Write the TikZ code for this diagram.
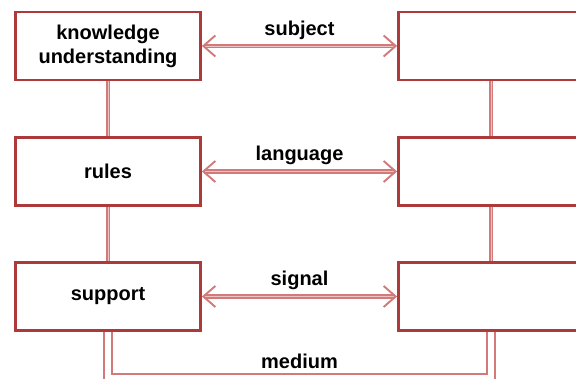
\documentclass[tikz,border=0pt]{standalone}
\usepackage{fontspec}
\setmainfont{Liberation Sans}
\usepackage{xcolor}
\usetikzlibrary{arrows.meta,positioning,calc}

\definecolor{boxred}{RGB}{172,58,58}
\definecolor{linkred}{RGB}{210,122,122}

\begin{document}
\begin{tikzpicture}[x=1pt,y=1pt,font=\fontsize{20}{24}\selectfont\bfseries,
  box/.style={draw=boxred,line width=2.8pt,fill=white,align=center,
    minimum width=185pt,minimum height=68pt,inner sep=0pt},
  link/.style={draw=linkred,line width=1.9pt,double=linkred!45,double distance=0.8pt},
  tips/.style={link,{Straight Barb[length=12pt,width=21pt]}-{Straight Barb[length=12pt,width=21pt]}},
  medlink/.style={draw=linkred,line width=2pt,double=white,double distance=6pt}]
\useasboundingbox (0,0) rectangle (576,379);
\clip (0,0) rectangle (576,379);
% ---- left column ----
\node[box] (lk) at (108,333) {knowledge\\understanding};
\node[box] (lr) at (108,207.5) {rules};
\node[box] (ls) at (108,82.5) {support};
% ---- right column, cut by the page edge ----
\node[box] (rk) at (491,333) {};
\node[box] (rr) at (491,207.5) {};
\node[box] (rs) at (491,82.5) {};
\draw[link] (lk) -- (lr);
\draw[link] (lr) -- (ls);
\draw[link] (rk) -- (rr);
\draw[link] (rr) -- (rs);
\draw[tips] (lk) -- node[above=2pt] {subject} (rk);
\draw[tips] (lr) -- node[above=2pt] {language} (rr);
\draw[tips] (ls) -- node[above=2pt] {signal} (rs);
\draw[medlink] (ls.south) -- ++(0,-46) -| node[pos=0.25,above=5pt] {medium} (rs.south);
\end{tikzpicture}
\end{document}
